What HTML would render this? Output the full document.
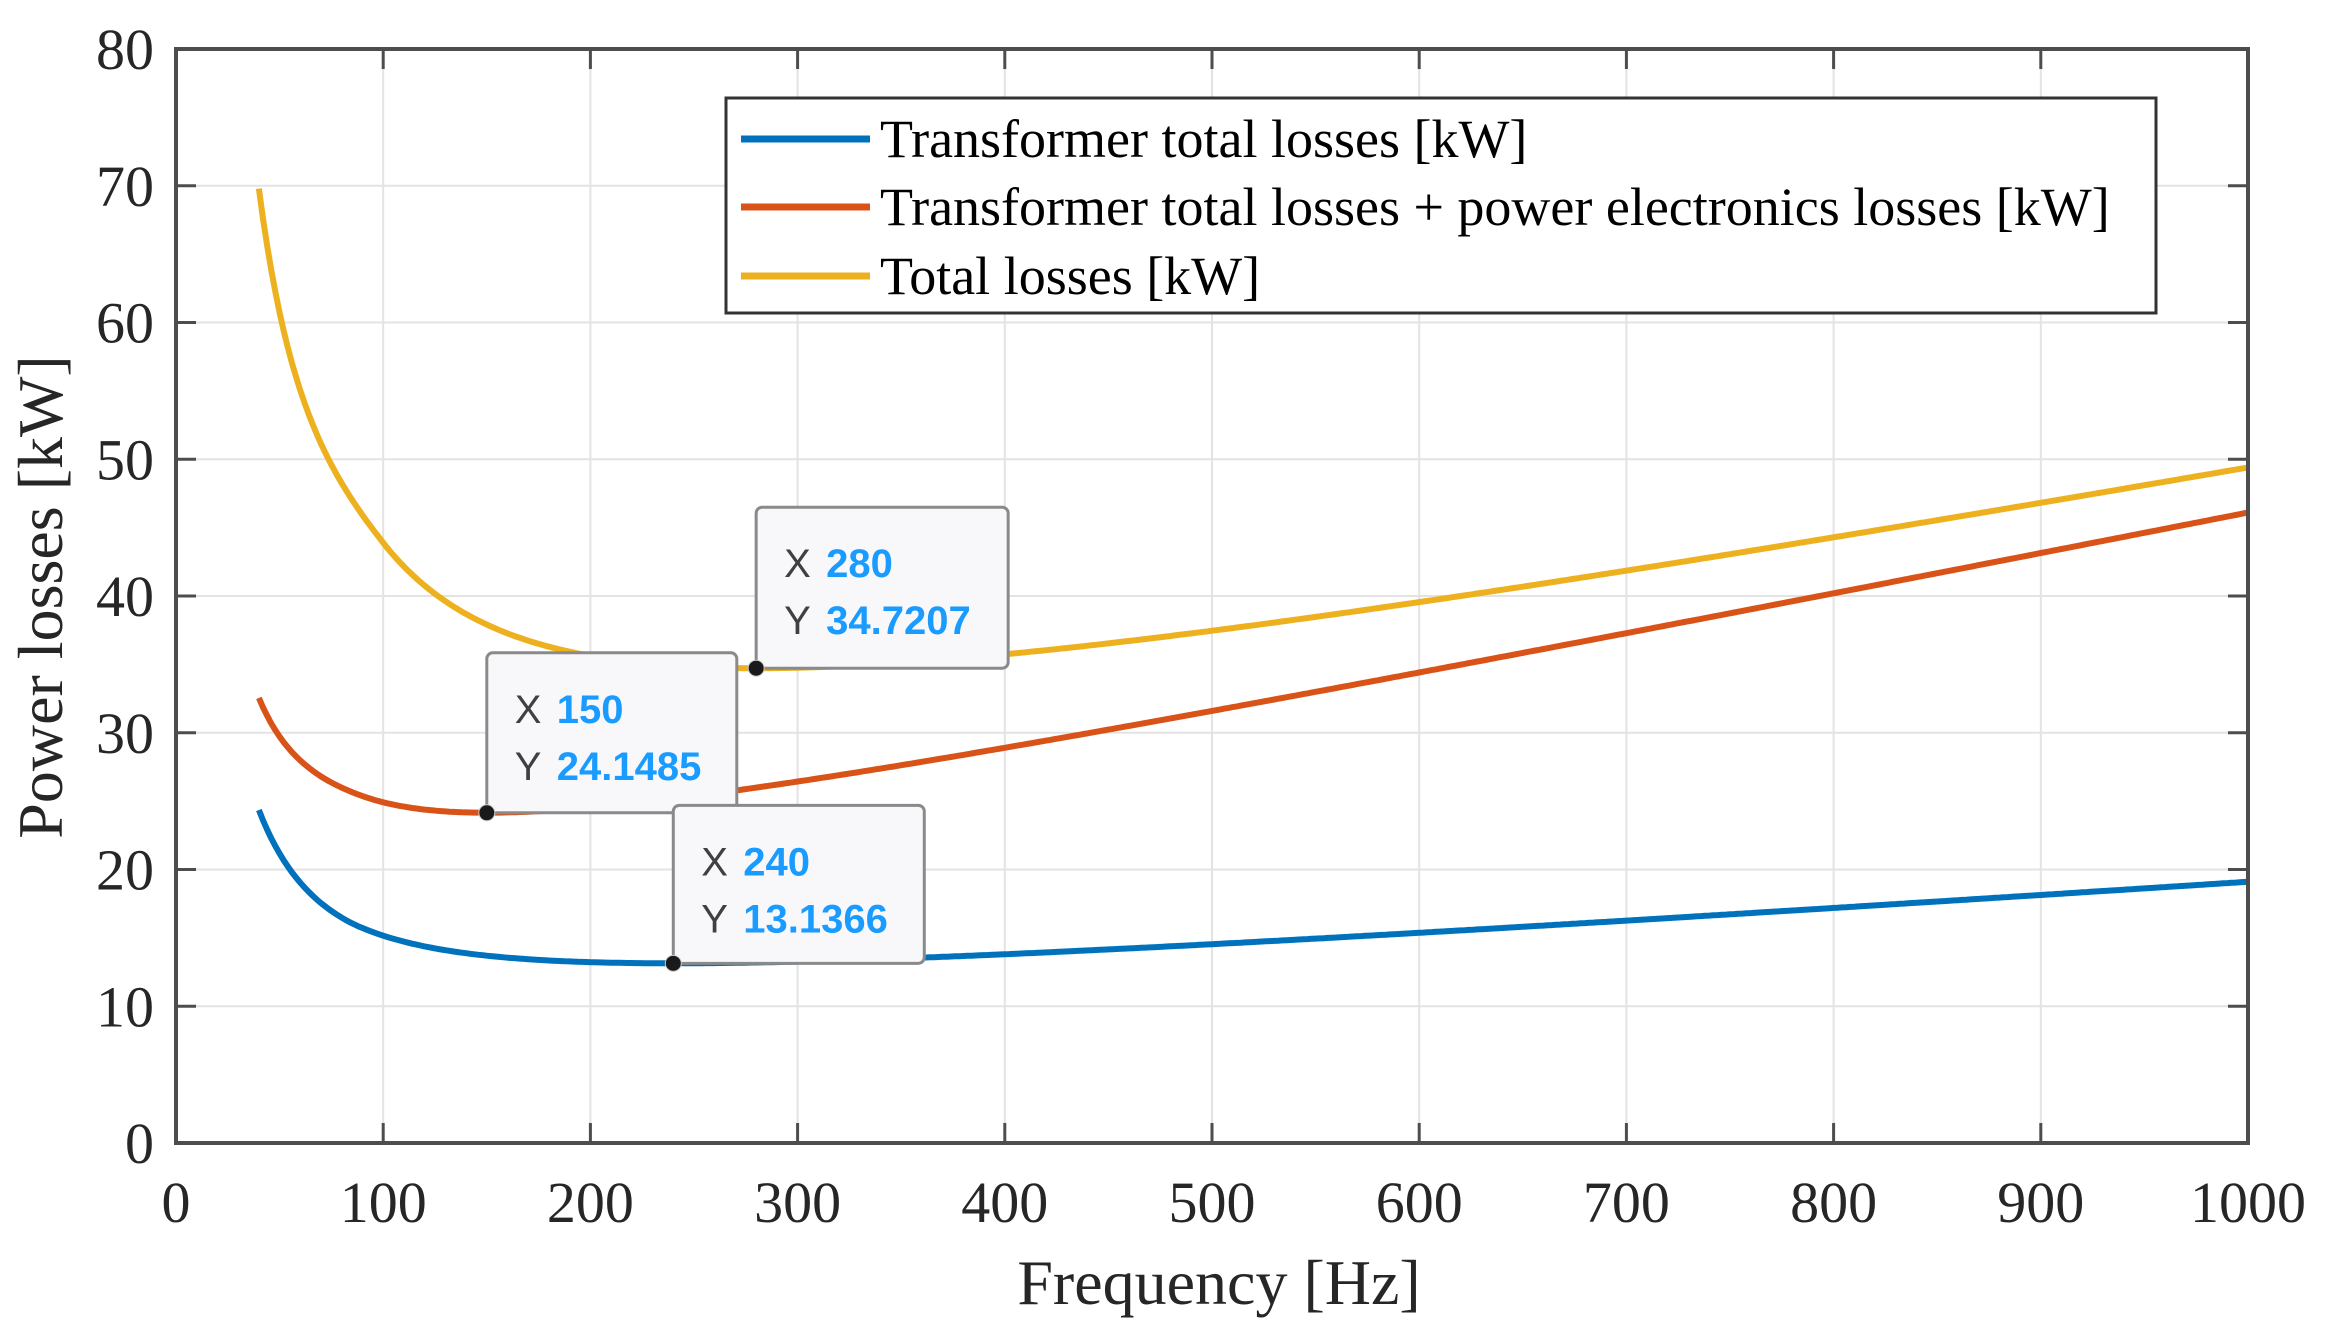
<!DOCTYPE html>
<html><head><meta charset="utf-8"><style>
html,body{margin:0;padding:0;background:#fff;}
svg{display:block;}
</style></head><body>
<svg id="s" width="2330" height="1344" xmlns="http://www.w3.org/2000/svg" font-family="Liberation Serif, serif">
<rect width="2330" height="1344" fill="#fff"/>
<g id="grid" stroke="#e3e3e3" stroke-width="2"></g>
<g id="curves" fill="none" stroke-width="6" stroke-linejoin="round"></g>
<rect x="176" y="49" width="2072" height="1094" fill="none" stroke="#4d4d4d" stroke-width="4"/>
<g id="ticks" stroke="#4d4d4d" stroke-width="3"></g>
<g id="labels" font-size="58" fill="#262626"></g>
<text x="1219" y="1304" font-size="64" text-anchor="middle" fill="#262626">Frequency [Hz]</text>
<text transform="translate(62,597) rotate(-90)" font-size="64" text-anchor="middle" fill="#262626">Power losses [kW]</text>
<!-- legend -->
<rect x="726" y="98" width="1430" height="215" fill="#fff" stroke="#333" stroke-width="3"/>
<line x1="741" y1="139" x2="870" y2="139" stroke="#0072BD" stroke-width="7"/>
<line x1="741" y1="207" x2="870" y2="207" stroke="#D95319" stroke-width="7"/>
<line x1="741" y1="276" x2="870" y2="276" stroke="#EDB120" stroke-width="7"/>
<g font-size="54" fill="#000" xml:space="preserve">
<text x="880" y="157">Transformer total losses [kW]</text>
<text x="880" y="225">Transformer total losses + power electronics losses  [kW]</text>
<text x="880" y="294">Total losses [kW]</text>
</g>
<g id="tips" font-family="Liberation Sans, sans-serif" font-size="40"></g>
</svg>
<script>
var NS="http://www.w3.org/2000/svg";
function X(f){return 176+f*2.072;}
function Y(v){return 1143-v*13.675;}
function el(p,t,a,txt){var e=document.createElementNS(NS,t);for(var k in a)e.setAttribute(k,a[k]);if(txt!==undefined)e.textContent=txt;p.appendChild(e);return e;}
var g=document.getElementById('grid'),tk=document.getElementById('ticks'),lb=document.getElementById('labels');
for(var i=1;i<10;i++){var x=X(i*100);el(g,'line',{x1:x,y1:49,x2:x,y2:1143});el(tk,'line',{x1:x,y1:1143,x2:x,y2:1123});el(tk,'line',{x1:x,y1:49,x2:x,y2:69});}
for(var j=1;j<8;j++){var y=Y(j*10);el(g,'line',{x1:176,y1:y,x2:2248,y2:y});el(tk,'line',{x1:176,y1:y,x2:196,y2:y});el(tk,'line',{x1:2248,y1:y,x2:2228,y2:y});}
for(var i=0;i<=10;i++){el(lb,'text',{x:X(i*100),y:1222,'text-anchor':'middle'},String(i*100));}
for(var j=0;j<=8;j++){el(lb,'text',{x:154,y:Y(j*10)+20,'text-anchor':'end'},String(j*10));}
var c=document.getElementById('curves');
function curve(A,B,C,col,corr){var p=[];for(var f=40;f<=1000;f+=2){var v=A/f+B*f+C;if(corr)v+=corr(f);p.push(X(f).toFixed(1)+','+Y(v).toFixed(1));}el(c,'polyline',{points:p.join(' '),stroke:col});}
curve(594,0.01032,8.19,'#0072BD',function(f){return f<90?0.9*Math.pow((90-f)/50,2):0;});
curve(683.6,0.03038,15.04,'#D95319',function(f){return f<90?-0.8*Math.pow((90-f)/50,2):0;});
curve(2220,0.02832,18.86,'#EDB120',function(f){return f<100?-5.7*Math.pow((100-f)/60,2):0;});
var tp=document.getElementById('tips');
function tip(px,py,w,h,xs,ys){
 el(tp,'rect',{x:px,y:py-h,width:w,height:h,rx:6,fill:'#f8f8fb',stroke:'#8a8a8a','stroke-width':3});
 el(tp,'text',{x:px+28,y:py-h+70,fill:'#404040'},'X');
 el(tp,'text',{x:px+70,y:py-h+70,fill:'#1a9bff','font-weight':'bold'},xs);
 el(tp,'text',{x:px+28,y:py-h+127,fill:'#404040'},'Y');
 el(tp,'text',{x:px+70,y:py-h+127,fill:'#1a9bff','font-weight':'bold'},ys);
 el(tp,'circle',{cx:px,cy:py,r:8,fill:'#1a1a1a',stroke:'#ccc','stroke-width':1});
}
tip(X(280),Y(34.7207),252,161,'280','34.7207');
tip(X(150),Y(24.1485),250,160,'150','24.1485');
tip(X(240),Y(13.1366),251,158,'240','13.1366');
</script>
</body></html>
